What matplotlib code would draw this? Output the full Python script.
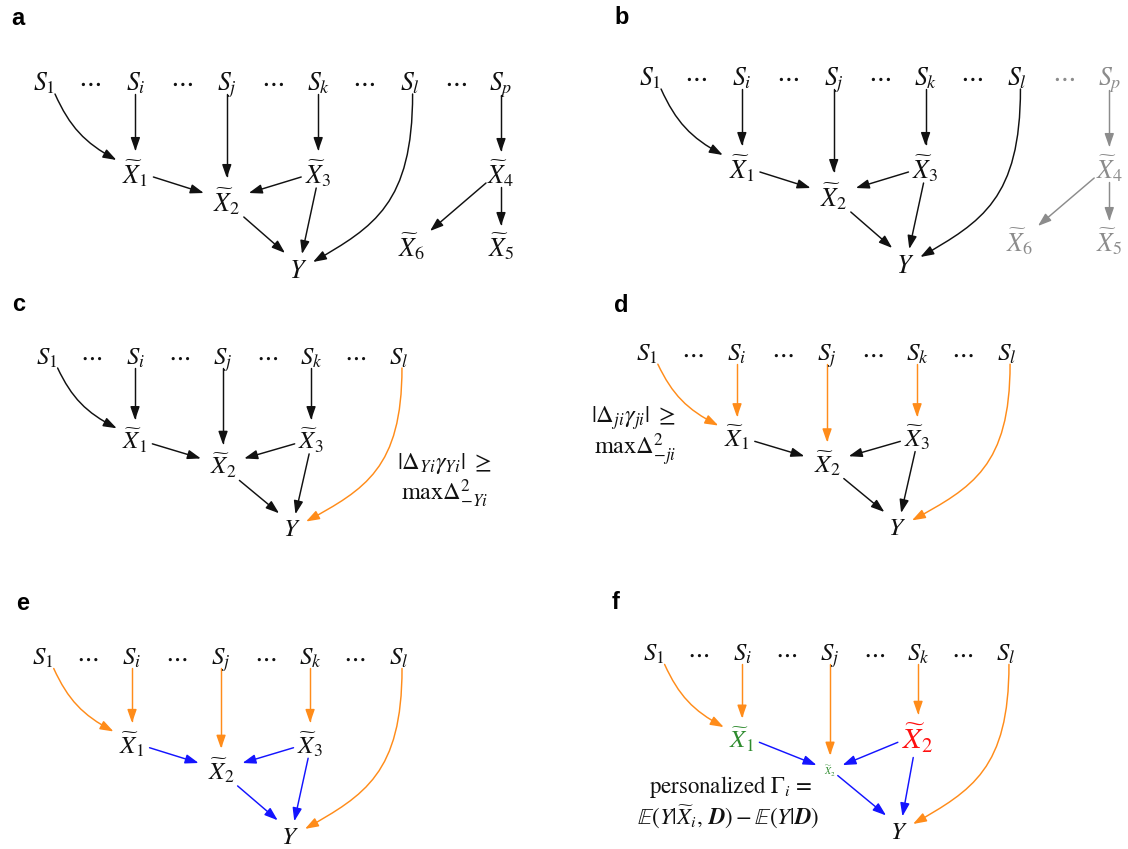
import numpy as np
import matplotlib.pyplot as plt
from matplotlib.patches import FancyArrowPatch
from matplotlib.path import Path
from matplotlib.mathtext import MathTextParser

plt.rcParams['mathtext.fontset'] = 'stix'
plt.rcParams['font.family'] = 'STIXGeneral'

# bold italic D if mathtext knows it
bold_d = r'\mathbf{D}'
for cmd in (r'\mathbfit{D}', r'\boldsymbol{D}'):
    try:
        MathTextParser('path').parse('$' + cmd + '$')
        bold_d = cmd
        break
    except Exception:
        pass

# graph content
s_nodes = ['S1', 'Si', 'Sj', 'Sk', 'Sl', 'Sp']
s_labels = [r'$S_1$', r'$S_i$', r'$S_j$', r'$S_k$', r'$S_l$', r'$S_p$']
x_nodes = ['X1', 'X2', 'X3', 'X4', 'X5', 'X6', 'Y']
x_labels = [r'$\widetilde{X}_1$', r'$\widetilde{X}_2$', r'$\widetilde{X}_3$',
            r'$\widetilde{X}_4$', r'$\widetilde{X}_5$', r'$\widetilde{X}_6$', r'$Y$']
edges = [('S1', 'X1'), ('Si', 'X1'), ('Sj', 'X2'), ('Sk', 'X3'), ('Sl', 'Y'),
         ('X1', 'X2'), ('X3', 'X2'), ('X3', 'Y'), ('X2', 'Y'),
         ('Sp', 'X4'), ('X4', 'X6'), ('X4', 'X5')]
s_edges = edges[:5]
inner_edges = edges[5:9]
side_edges = edges[9:]
panel_names = ['a', 'b', 'c', 'd', 'e', 'f']

c_text = [r'$|\Delta_{Yi}\gamma_{Yi}|\ \geq$', r'$\mathrm{max}\Delta^{2}_{-Yi}$']
d_text = [r'$|\Delta_{ji}\gamma_{ji}|\ \geq$', r'$\mathrm{max}\Delta^{2}_{-ji}$']
f_text = [r'personalized $\Gamma_i$ =',
          r'$\mathbb{E}(Y|\widetilde{X}_i,\,' + bold_d + r')-\mathbb{E}(Y|' + bold_d + r')$']

# colours
K = '#111111'
ORANGE = '#ff8c1a'
BLUE = '#1414ff'
GREY = '#8c8c8c'
GREEN = '#2e8b2e'
RED = '#ff1010'

# layout (pixels of panel a, relative to S1)
d = 91.4
layout = {'S1': (0, 0), 'Si': (d, 0), 'Sj': (2 * d, 0), 'Sk': (3 * d, 0),
          'Sl': (4 * d, 0), 'Sp': (5 * d, 0),
          'X1': (d, 93), 'X2': (2 * d, 121), 'X3': (3 * d, 93), 'X4': (5 * d, 93),
          'X5': (5 * d, 166), 'X6': (368, 166), 'Y': (254, 188)}
anchors = {('S1', 'X1'): ((11, 12), (-19, -15)),
           ('Si', 'X1'): ((0, 12), (0, -24)),
           ('Sj', 'X2'): ((0, 12), (0, -25)),
           ('Sk', 'X3'): ((0, 12), (0, -24)),
           ('Sl', 'Y'): ((3, 12), (15, -8)),
           ('X1', 'X2'): ((18, 2), (-23, -10)),
           ('X3', 'X2'): ((-17, 2), (22, -10)),
           ('X3', 'Y'): ((-2, 13), (4, -16)),
           ('X2', 'Y'): ((17, 14), (-13, -17)),
           ('Sp', 'X4'): ((0, 13), (0, -23)),
           ('X4', 'X6'): ((-15, 8), (18, -17)),
           ('X4', 'X5'): ((0, 12), (0, -22))}
anchors_f = dict(anchors)
anchors_f.update({('Sk', 'X3'): ((0, 12), (0, -28)),
                  ('X3', 'X2'): ((-21, 1), (13, -3)),
                  ('X1', 'X2'): ((18, 1), (-14, -3)),
                  ('Sj', 'X2'): ((0, 12), (0, -13)),
                  ('X2', 'Y'): ((8, 8), (-13, -17)),
                  ('X3', 'Y'): ((-5, 17), (4, -16))})
curves = {('S1', 'X1'): ((0.41, 0.91), (0.88, 0.48), 0.4, 0.4),
          ('Sl', 'Y'): ((0.0, 1.0), (-0.866, 0.5), 0.56, 0.36)}

# panel origin (S1 centre), x scale, y scale
panel_pos = {'a': (44, 82, 1.0, 1.0), 'b': (650, 77, 1.005, 1.0),
             'c': (47, 357, 0.963, 0.914), 'd': (647, 353, 0.985, 0.93),
             'e': (43, 657, 0.974, 0.955), 'f': (654, 653, 0.963, 0.95)}
label_pos = {'a': (11, 25), 'b': (614, 24), 'c': (12, 311),
             'd': (614, 312), 'e': (16, 610), 'f': (612, 609)}

fig = plt.figure(figsize=(11.28, 8.49), dpi=100)
ax = fig.add_axes([0, 0, 1, 1])
ax.set_xlim(0, 1128)
ax.set_ylim(849, 0)
ax.axis('off')


def draw_panel(name, n_s, edge_list, edge_col, node_col, node_size, node_text, anch):
    ox, oy, sx, sy = panel_pos[name]
    fs = 18.5 * sx

    def tr(p):
        return (ox + sx * p[0], oy + sy * p[1])

    # nodes
    names = s_nodes[:n_s] + [n for n in x_nodes if n in {e[1] for e in edge_list}]
    labels = dict(zip(s_nodes, s_labels))
    labels.update(zip(x_nodes, x_labels))
    labels.update(node_text)
    for n in names:
        x, y = tr(layout[n])
        ax.text(x, y + 8 * sy, labels[n], ha='center', va='baseline',
                fontsize=fs * node_size.get(n, 1.0), color=node_col.get(n, K))
    for i in range(n_s - 1):
        x0, _ = tr(layout[s_nodes[i]])
        x1, y = tr(layout[s_nodes[i + 1]])
        ax.text((x0 + x1) / 2, y + 8 * sy, r'$\cdots$', ha='center', va='baseline',
                fontsize=fs, color=node_col.get(s_nodes[i + 1], K))

    # arrows
    for e in edge_list:
        a0, a1 = anch[e]
        p0 = np.add(layout[e[0]], a0)
        p3 = np.add(layout[e[1]], a1)
        if e in curves:
            d0, d1, k0, k1 = curves[e]
            L = np.hypot(*(p3 - p0))
            p1 = p0 + k0 * L * np.array(d0)
            p2 = p3 - k1 * L * np.array(d1)
            verts = [tr(p) for p in (p0, p1, p2, p3)]
            codes = [Path.MOVETO, Path.CURVE4, Path.CURVE4, Path.CURVE4]
        else:
            verts = [tr(p0), tr(p3)]
            codes = [Path.MOVETO, Path.LINETO]
        arr = FancyArrowPatch(path=Path(verts, codes),
                              arrowstyle='-|>,head_length=0.8,head_width=0.28',
                              mutation_scale=10, color=edge_col.get(e, K), lw=1.05)
        ax.add_patch(arr)

    lx, ly = label_pos[name]
    ax.text(lx, ly, name, ha='left', va='baseline', fontsize=17,
            fontweight='bold', family='Liberation Sans', color='black')


small_edges = s_edges + inner_edges

draw_panel('a', 6, edges, {}, {}, {}, {}, anchors)

grey_nodes = {n: GREY for n in ['Sp', 'X4', 'X5', 'X6']}
draw_panel('b', 6, edges, {e: GREY for e in side_edges}, grey_nodes, {}, {}, anchors)

draw_panel('c', 5, small_edges, {('Sl', 'Y'): ORANGE}, {}, {}, {}, anchors)

draw_panel('d', 5, small_edges, {e: ORANGE for e in s_edges}, {}, {}, {}, anchors)

col_e = {e: ORANGE for e in s_edges}
col_e.update({e: BLUE for e in inner_edges})
draw_panel('e', 5, small_edges, col_e, {}, {}, {}, anchors)

draw_panel('f', 5, small_edges, col_e,
           {'X1': GREEN, 'X2': GREEN, 'X3': RED},
           {'X2': 0.4, 'X3': 1.2},
           {'X3': r'$\widetilde{X}_2$'}, anchors_f)

# side formulas
ax.text(444, 463, c_text[0], ha='center', va='center', fontsize=17.5, color=K)
ax.text(445, 494, c_text[1], ha='center', va='center', fontsize=17.5, color=K)
ax.text(634, 418, d_text[0], ha='center', va='center', fontsize=17.5, color=K)
ax.text(635, 450, d_text[1], ha='center', va='center', fontsize=17.5, color=K)
ax.text(730, 787, f_text[0], ha='center', va='center', fontsize=16.5, color=K)
ax.text(728, 817, f_text[1], ha='center', va='center', fontsize=16.5, color=K)

fig.savefig('out.png', dpi=100)
